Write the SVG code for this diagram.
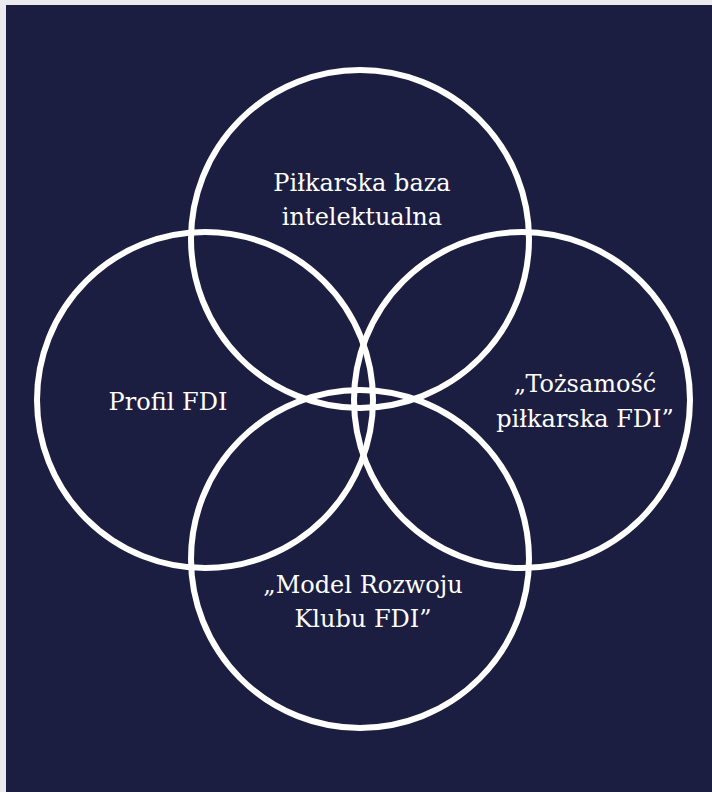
<svg xmlns="http://www.w3.org/2000/svg" width="712" height="792" viewBox="0 0 712 792">
<style>
.ring{fill:none;stroke:#ffffff;stroke-width:6}
.lbl{font-family:"DejaVu Serif","Liberation Serif",serif;font-size:24px;fill:#ffffff;text-anchor:middle}
</style>
<rect x="0" y="0" width="712" height="792" fill="#ebeaef"/>
<rect x="6" y="5" width="706" height="787" fill="#1c1e41"/>
<g id="node-top">
<circle class="ring" cx="360" cy="239" r="169"/>
<text class="lbl" x="362" y="191">Piłkarska baza</text>
<text class="lbl" x="362" y="225">intelektualna</text>
</g>
<g id="node-left">
<circle class="ring" cx="205" cy="400" r="168"/>
<text class="lbl" x="168" y="410">Profil FDI</text>
</g>
<g id="node-right">
<circle class="ring" cx="522" cy="400" r="168"/>
<text class="lbl" x="585" y="392">„Tożsamość</text>
<text class="lbl" x="585" y="427">piłkarska FDI”</text>
</g>
<g id="node-bottom">
<circle class="ring" cx="360" cy="559" r="169"/>
<text class="lbl" x="363" y="593">„Model Rozwoju</text>
<text class="lbl" x="363" y="627">Klubu FDI”</text>
</g>
<g id="connectors"></g>
</svg>
